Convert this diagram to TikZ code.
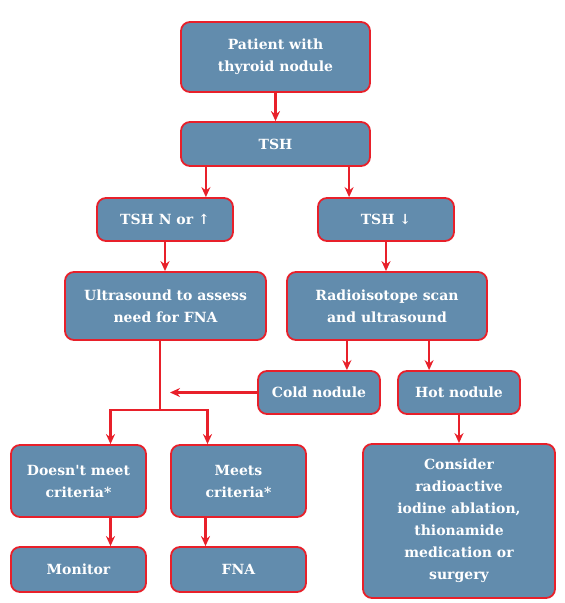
\documentclass[tikz,border=0pt]{standalone}
\usepackage{fontspec}
\setmainfont{DejaVu Serif}
\usetikzlibrary{arrows.meta}
\definecolor{boxfill}{HTML}{628CAD}
\definecolor{boxline}{HTML}{E8202A}
\begin{document}
\begin{tikzpicture}[x=1pt,y=-1pt,
  box/.style={draw=boxline,fill=boxfill,line width=1.8pt,rounded corners=9pt,
    text=white,font=\bfseries\fontsize{14}{22}\selectfont,align=center,
    inner sep=0pt},
  conn/.style={draw=boxline,line width=2.2pt},
  arr/.style={conn,-{Stealth[length=10pt,width=9pt]}}]
\useasboundingbox (0,0) rectangle (565,603);
\node[box,minimum width=189pt,minimum height=70pt] (pat) at (275.5,57) {Patient with\\thyroid nodule};
\node[box,minimum width=189pt,minimum height=44pt] (tsh) at (275.5,144) {TSH};
\node[box,minimum width=136pt,minimum height=43pt] (tshn) at (165,219.5) {TSH N or ↑};
\node[box,minimum width=136pt,minimum height=43pt] (tshd) at (386,219.5) {TSH ↓};
\node[box,minimum width=201pt,minimum height=68pt] (us) at (165.5,306) {Ultrasound to assess\\need for FNA};
\node[box,minimum width=200pt,minimum height=68pt] (radio) at (387,306) {Radioisotope scan\\and ultrasound};
\node[box,minimum width=122pt,minimum height=43pt] (cold) at (319,392.5) {Cold nodule};
\node[box,minimum width=122pt,minimum height=43pt] (hot) at (459,392.5) {Hot nodule};
\node[box,minimum width=135pt,minimum height=72pt] (dnm) at (78.5,481) {Doesn\textquotesingle t meet\\criteria*};
\node[box,minimum width=135pt,minimum height=72pt] (meets) at (238.5,481) {Meets\\criteria*};
\node[box,minimum width=192pt,minimum height=154pt] (cons) at (459,521) {Consider\\radioactive\\iodine ablation,\\thionamide\\medication or\\surgery};
\node[box,minimum width=135pt,minimum height=45pt] (mon) at (78.5,569.5) {Monitor};
\node[box,minimum width=135pt,minimum height=45pt] (fna) at (238.5,569.5) {FNA};
\coordinate (join) at (160,410);
\coordinate (coldend) at (170,392.5);
\draw[arr] (pat.south) -- (tsh.north);
\draw[arr] (tsh.south -| tshn.north east) ++(-28,0) coordinate (a1) -- (a1 |- tshn.north);
\draw[arr] (tsh.south -| tshd.north west) ++(32,0) coordinate (a2) -- (a2 |- tshd.north);
\draw[arr] (tshn.south) -- (tshn.south |- us.north);
\draw[arr] (tshd.south) -- (tshd.south |- radio.north);
\draw[arr] (radio.south -| cold.north east) ++(-34,0) coordinate (a3) -- (a3 |- cold.north);
\draw[arr] (radio.south -| hot.north west) ++(32,0) coordinate (a4) -- (a4 |- hot.north);
\draw[conn] (us.south -| join) -- (join);
\draw[arr] (join) -| ([xshift=32pt]dnm.north);
\draw[arr] (join) -| ([xshift=-31pt]meets.north);
\draw[arr] (cold.west) -- (coldend);
\draw[arr] (hot.south) -- (cons.north);
\draw[arr] ([xshift=32pt]dnm.south) -- ([xshift=32pt]mon.north);
\draw[arr] ([xshift=-33pt]meets.south) -- ([xshift=-33pt]fna.north);
\end{tikzpicture}
\end{document}
